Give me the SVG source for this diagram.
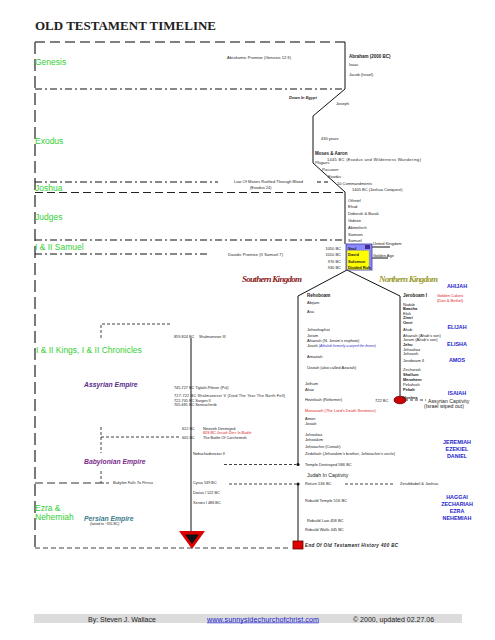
<svg xmlns="http://www.w3.org/2000/svg" width="495" height="640" viewBox="0 0 495 640">
<style>
text{font-family:"Liberation Sans",Arial,sans-serif;font-size:4px;fill:#222}
.b{font-weight:bold}
.i{font-style:italic}
.m{font-size:4.5px}
.sec{font-size:8.5px;fill:#35cf35}
.emp{font-size:6.8px;font-weight:bold;font-style:italic}
.kg{font-family:"Liberation Serif","Times New Roman",serif;font-size:9px;font-weight:bold;font-style:italic}
.pro{font-size:5.4px;font-weight:bold;fill:#2424cc;text-anchor:middle}
.red{fill:#e02020}
.sm{font-size:3.8px}
.ln{fill:none;stroke:#111;stroke-width:1}
.bd{fill:none;stroke:#333;stroke-width:1.3;stroke-dasharray:12 5}
.dd{fill:none;stroke:#111;stroke-width:1.1;stroke-dasharray:7 3 2 3}
.fd{fill:none;stroke:#111;stroke-width:0.8;stroke-dasharray:3 2}
</style>
<rect width="495" height="640" fill="#fff"/>
<text x="35" y="29.5" font-family="Liberation Serif,Times New Roman,serif" font-size="13" font-weight="bold" fill="#111" textLength="181" lengthAdjust="spacingAndGlyphs" style="font-family:'Liberation Serif',serif;font-size:13px">OLD TESTAMENT TIMELINE</text>

<g id="connectors">
<path class="bd" d="M35,42 V548"/>
<path d="M35,42 H345" fill="none" stroke="#555" stroke-width="1.3" stroke-dasharray="10 5"/>
<path class="dd" d="M35,89 H345"/>
<path class="dd" d="M35,182 H218"/>
<path d="M317,182 H330" fill="none" stroke="#111" stroke-width="1.1" stroke-dasharray="4 3"/>
<path d="M35,192.5 H345" fill="none" stroke="#222" stroke-width="1.1" stroke-dasharray="8 4"/>
<path class="dd" d="M35,240 H343"/>
<path class="dd" d="M35,254 H210"/>
<path d="M35,548 H290" fill="none" stroke="#444" stroke-width="1" stroke-dasharray="5 3"/>
<path class="ln" d="M345,42 V89 L313,116 V163 L345,192 V244"/>
<path class="ln" d="M347,270 L298,296 V464.5 M298,484 V541 M347,270 L400,296 V396"/>
<path class="ln" d="M191,338 V532"/>
<path class="fd" d="M101,338 V324 H172 M101,427 V453 M101,471 V483 M101,437 H180 M101,483 H111"/>
<path d="M35,483 H101" fill="none" stroke="#333" stroke-width="1.2" stroke-dasharray="8 4"/>
<path class="fd" d="M224,464.5 H296 M229,484 H296 M345,484 H395 M405,400 H426"/>
<path class="ln" stroke-width="0.8" d="M365,247 H390 M362,258 H388"/>
<circle cx="298" cy="464.5" r="1.6" fill="#111"/>
<circle cx="298" cy="484" r="1.6" fill="#111"/>
<ellipse cx="400" cy="400" rx="6" ry="3.8" fill="#cc0000" stroke="#600" stroke-width="0.8"/>
<rect x="293" y="541" width="10" height="8" fill="#dd0000" stroke="#600" stroke-width="0.8"/>
<polygon points="179,531 205,531 192,549" fill="#dd0000"/>
<polygon points="185,534.5 199,534.5 192,544" fill="#111"/>
</g>

<g id="genesis">
<text class="sec" x="35" y="65">Genesis</text>
<text x="227" y="58.5" textLength="64">Abrahamic Promise (Genesis 12:3)</text>
<text class="b m" x="349" y="57.5">Abraham (2000 BC)</text>
<text x="349" y="65.5">Isaac</text>
<text x="349" y="75.5">Jacob (Israel)</text>
<text class="b i" x="289" y="98.5">Down In Egypt</text>
<text x="336" y="104.5">Joseph</text>
</g>

<g id="exodus">
<text class="sec" x="35" y="144">Exodus</text>
<text x="321" y="139.5">430 years</text>
<text class="b m" x="315" y="154.5">Moses &amp; Aaron</text>
<text x="327" y="160.5" textLength="94">1445 BC (Exodus and Wilderness Wandering)</text>
<text class="i" x="315" y="163.5">Plagues</text>
<text class="i" x="322" y="170.5">Passover</text>
<text class="i" x="328" y="177.5">Exodus</text>
<text x="337" y="184.5">10 Commandments</text>
<text x="234" y="183" textLength="69">Law Of Moses Ratified Through Blood</text>
<text x="250" y="188.5">(Exodus 24)</text>
</g>

<g id="joshua">
<text class="sec" x="35" y="191">Joshua</text>
<text x="352" y="190.5">1405 BC (Joshua Conquest)</text>
</g>

<g id="judges">
<text class="sec" x="35" y="220">Judges</text>
<text x="348" y="201.5">Othniel</text>
<text x="348" y="208.3">Ehud</text>
<text x="348" y="215.1">Deborah &amp; Barak</text>
<text x="348" y="221.9">Gideon</text>
<text x="348" y="228.7">Abimelech</text>
<text x="348" y="235.5">Samson</text>
<text x="348" y="242.3">Samuel</text>
</g>

<g id="samuel">
<text class="sec" x="35" y="250">I &amp; II Samuel</text>
<text x="228" y="255.5" textLength="55">Davidic Promise (II Samuel 7)</text>
<text x="341" y="249.5" text-anchor="end">1050 BC</text>
<text x="341" y="256" text-anchor="end">1010 BC</text>
<text x="341" y="262.5" text-anchor="end">970 BC</text>
<text x="341" y="269" text-anchor="end">930 BC</text>
</g>

<g id="united-kingdom">
<rect x="346" y="244" width="26" height="26" fill="#8a8aff" stroke="#3a3aa0" stroke-width="0.8"/>
<rect x="347" y="250.5" width="22" height="19" fill="#ffff00" stroke="#8a8a40" stroke-width="0.4" stroke-dasharray="1 1"/>
<rect x="365" y="245" width="5" height="4" fill="#4a2a8a"/>
<text class="b" x="348" y="249.5" fill="#111">Saul</text>
<text class="b" x="348" y="256">David</text>
<text class="b" x="348" y="262.5">Solomon</text>
<text class="b" x="348" y="269" textLength="23">Divided Rule</text>
<text x="373" y="244.5">United Kingdom</text>
<text x="373" y="256.5">Golden Age</text>
</g>

<g id="southern-kingdom">
<text class="kg" x="242" y="281.5" fill="#8b1a1a" style="fill:#8b1a1a" textLength="60">Southern Kingdom</text>
<text class="b m" x="307" y="296.5">Rehoboam</text>
<text x="307" y="303.5">Abijam</text>
<text x="307" y="312.5">Asa</text>
<text x="307" y="330.5">Jehoshaphat</text>
<text x="307" y="336.5">Joram</text>
<text x="307" y="341.5">Ahaziah (N. Joram's nephew)</text>
<text x="307" y="346.5">Joash <tspan class="i" style="fill:#3030c0;font-size:3.4px">(Athaliah formerly usurped the throne)</tspan></text>
<text x="307" y="357.5">Amaziah</text>
<text x="307" y="368.5">Uzziah (also called Azariah)</text>
<text x="305" y="384.5">Jotham</text>
<text x="305" y="390.5">Ahaz</text>
<text x="305" y="400.5">Hezekiah (Reformer)</text>
<text x="375" y="402">722 BC</text>
<text class="red" x="305" y="411.5">Manasseh (The Lord's Death Sentence)</text>
<text x="305" y="419.5">Amon</text>
<text x="305" y="424.5">Josiah</text>
<text x="305" y="435.5">Jehoahaz</text>
<text x="305" y="440.5">Jehoiakim</text>
<text x="305" y="447.5">Jehoiachin (Coniah)</text>
<text x="305" y="454.5" textLength="90">Zedekiah (Jehoiakim's brother, Jehoiachin's uncle)</text>
<text x="305" y="465.5">Temple Destroyed 586 BC</text>
<text x="307" y="477" style="font-size:5.2px">Judah In Captivity</text>
<text x="305" y="485">Return 536 BC</text>
<text x="400" y="485">Zerubbabel &amp; Joshua</text>
<text x="305" y="501.5">Rebuild Temple 516 BC</text>
<text x="307" y="521.5">Rebuild Law 458 BC</text>
<text x="305" y="530.5">Rebuild Walls 445 BC</text>
<text class="b i m" x="305" y="547" textLength="93">End Of Old Testament History 400 BC</text>
</g>

<g id="northern-kingdom">
<text class="kg" x="379" y="281.5" style="fill:#9a9a2e" textLength="59">Northern Kingdom</text>
<text class="b m" x="403" y="296.5">Jeroboam I</text>
<text class="red" x="437" y="296.5">Golden Calves</text>
<text class="red" x="437" y="301.5">(Dan &amp; Bethel)</text>
<text x="403" y="305.5">Nadab</text>
<text class="b" x="403" y="309.5">Baasha</text>
<text x="403" y="314.5">Elah</text>
<text class="b" x="403" y="318.5">Zimri</text>
<text class="b" x="403" y="323.5">Omri</text>
<text x="403" y="330.5">Ahab</text>
<text x="403" y="336.5">Ahaziah (Ahab's son)</text>
<text x="403" y="340.5">Joram (Ahab's son)</text>
<text class="b" x="403" y="345.5">Jehu</text>
<text x="403" y="350.5">Jehoahaz</text>
<text x="403" y="354.5">Jehoash</text>
<text x="403" y="361.5">Jeroboam II</text>
<text x="403" y="370.5">Zechariah</text>
<text class="b" x="403" y="375.5">Shallum</text>
<text class="b" x="403" y="380.5">Menahem</text>
<text x="403" y="385.5">Pekahiah</text>
<text class="b" x="403" y="390.5">Pekah</text>
<text class="b" x="403" y="398.5">Hoshea</text>
<text x="428" y="402.5" style="font-size:5.2px">Assyrian Captivity</text>
<text x="444" y="407.5" style="font-size:5.2px" text-anchor="middle">(Israel wiped out)</text>
</g>

<g id="prophets">
<text class="pro" x="457" y="288">AHIJAH</text>
<text class="pro" x="457" y="329">ELIJAH</text>
<text class="pro" x="457" y="346">ELISHA</text>
<text class="pro" x="457" y="362">AMOS</text>
<text class="pro" x="457" y="395">ISAIAH</text>
<text class="pro" x="457" y="443.5">JEREMIAH</text>
<text class="pro" x="457" y="450.5">EZEKIEL</text>
<text class="pro" x="457" y="457.5">DANIEL</text>
<text class="pro" x="457" y="499">HAGGAI</text>
<text class="pro" x="457" y="506">ZECHARIAH</text>
<text class="pro" x="457" y="513">EZRA</text>
<text class="pro" x="457" y="520">NEHEMIAH</text>
</g>

<g id="kings-chronicles">
<text class="sec" x="36" y="353">I &amp; II Kings, I &amp; II Chronicles</text>
</g>

<g id="assyrian-empire">
<text class="emp" x="84" y="386.5" style="fill:#5b2c8c">Assyrian Empire</text>
<text class="sm" x="174" y="337.5">859-824 BC</text>
<text class="sm" x="199" y="337.5">Shalmaneser III</text>
<text class="sm" x="174" y="388.5">745-727 BC Tiglath-Pileser (Pul)</text>
<text class="sm" x="174" y="397" textLength="111">727-722 BC Shalmaneser V  (Died The Year The North Fell)</text>
<text class="sm" x="174" y="401.5">722-705 BC  Sargon II</text>
<text class="sm" x="174" y="406">705-681 BC Sennacherib</text>
<text class="sm" x="182" y="429.5">612 BC</text>
<text class="sm" x="203" y="429.5">Nineveh Destroyed</text>
<text class="sm red i" x="203" y="434">609 BC Josiah Dies In Battle</text>
<text class="sm" x="182" y="438.5">605 BC</text>
<text class="sm" x="203" y="438.5">The Battle Of Carchemish</text>
</g>

<g id="babylonian-empire">
<text class="emp" x="84" y="463.5" style="fill:#7b2b8b">Babylonian Empire</text>
<text class="sm" x="193" y="454.5">Nebuchadnezzar II</text>
<text class="sm i" x="113" y="484">Babylon Falls To Persia</text>
</g>

<g id="persian-empire">
<text class="sm" x="193" y="484">Cyrus  539 BC</text>
<text class="sm" x="193" y="493.5">Darius I  522 BC</text>
<text class="sm" x="193" y="503.5">Xerxes I  486 BC</text>
<text class="sec" x="35" y="511">Ezra &amp;</text>
<text class="sec" x="35" y="520">Nehemiah</text>
<text class="emp" x="84" y="520.5" style="fill:#3d7d8d">Persian Empire</text>
<text x="90" y="524.5" style="font-size:3.4px">(lasted to ~331 BC)</text>
</g>

<g id="footer">
<rect x="34" y="614" width="428" height="9" fill="#dcdcdc"/>
<text x="88" y="621.5" style="font-size:7px">By: Steven J. Wallace</text>
<text x="207" y="621.5" style="font-size:7.2px;fill:#1a1ad0;text-decoration:underline" textLength="112">www.sunnysidechurchofchrist.com</text>
<text x="353" y="621.5" style="font-size:7px">© 2000, updated 02.27.06</text>
</g>
</svg>
